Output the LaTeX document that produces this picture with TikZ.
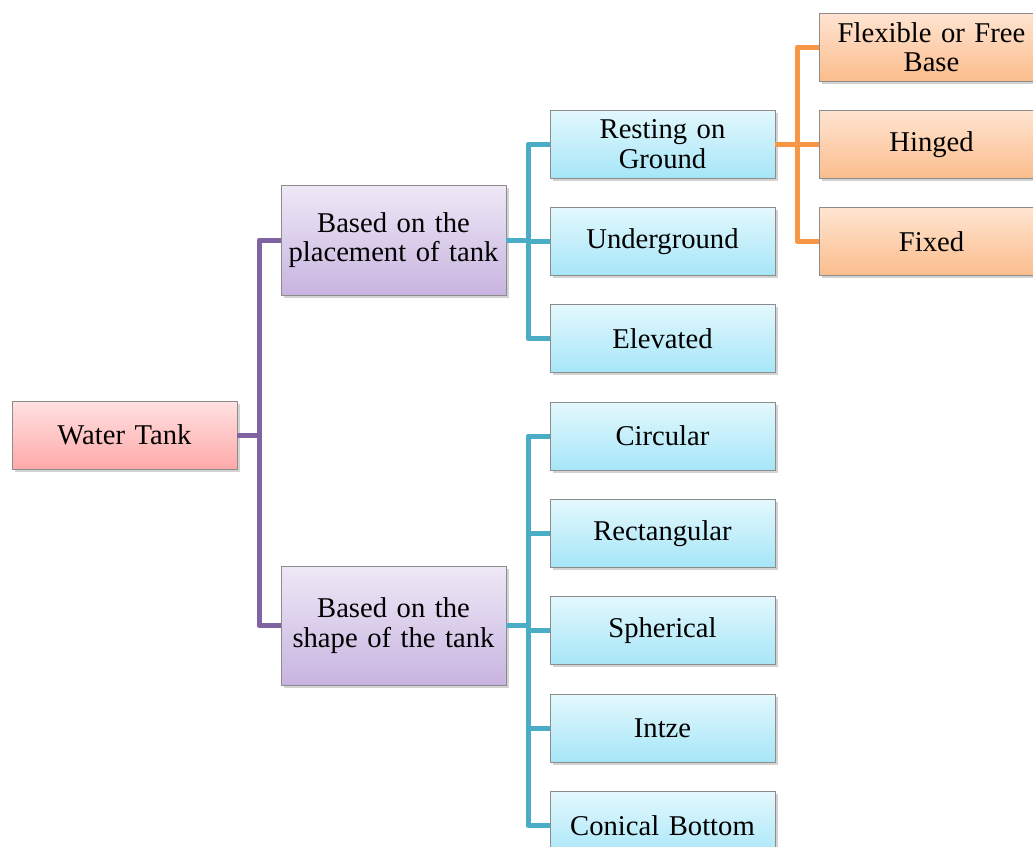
\documentclass[tikz,border=0pt]{standalone}
\usepackage{fontspec}
\setmainfont{Liberation Serif}
\usetikzlibrary{positioning,calc,shadows}

\definecolor{pinkTop}{HTML}{FFE1E1}
\definecolor{pinkBot}{HTML}{FFA9A9}
\definecolor{lilacTop}{HTML}{EEE8F6}
\definecolor{lilacBot}{HTML}{C8B4E0}
\definecolor{skyTop}{HTML}{E3F8FD}
\definecolor{skyBot}{HTML}{A6E6F8}
\definecolor{peachTop}{HTML}{FFE4D1}
\definecolor{peachBot}{HTML}{FBBD8C}
\definecolor{lilacLine}{HTML}{8064A2}
\definecolor{skyLine}{HTML}{4BACC6}
\definecolor{peachLine}{HTML}{F79646}

\begin{document}
\begin{tikzpicture}[x=0.02cm, y=-0.02cm, node distance=0.57cm,
  box/.style={rectangle, draw=black!45, line width=0.5pt, minimum width=4.5cm,
    minimum height=1.36cm, text width=4.3cm, align=center, inner sep=1pt,
    font=\fontsize{16.3pt}{16.8pt}\selectfont,
    drop shadow={shadow xshift=1.5pt, shadow yshift=-1.5pt, opacity=0.35}},
  root/.style={box, top color=pinkTop, bottom color=pinkBot},
  group/.style={box, top color=lilacTop, bottom color=lilacBot},
  kind/.style={box, top color=skyTop, bottom color=skyBot},
  base/.style={box, top color=peachTop, bottom color=peachBot},
  link/.style={line width=0.1cm, line join=round}]
  \useasboundingbox (0,0) rectangle (1033,846);
  \clip (0,0) rectangle (1033,846);

  \node[root] (tank) at (124.5,435) {Water Tank};
  \node[group, minimum height=2.2cm] (place) at (393.5,240) {Based on the\\placement of tank};
  \node[group, minimum height=2.38cm] (shape) at (393.5,625.5) {Based on the\\shape of the tank};

  \node[kind] (rest) at (662.5,144) {Resting on\\Ground};
  \node[kind, below=of rest] (under) {Underground};
  \node[kind, below=of under] (elev) {Elevated};
  \node[kind, below=of elev] (circ) {Circular};
  \node[kind, below=of circ] (rect) {Rectangular};
  \node[kind, below=of rect] (sphere) {Spherical};
  \node[kind, below=of sphere] (intze) {Intze};
  \node[kind, below=of intze] (cone) {Conical Bottom};

  \node[base] (flex) at (931.5,47) {Flexible or Free\\Base};
  \node[base, below=of flex] (hinged) {Hinged};
  \node[base, below=of hinged] (fixed) {Fixed};

  \coordinate (m1) at ($(tank.east)!0.5!(place.west)$);
  \coordinate (m2) at ($(place.east)!0.5!(rest.west)$);
  \coordinate (m3) at ($(rest.east)!0.5!(hinged.west)$);
  \foreach \c in {place,shape}
    \draw[link, lilacLine] (tank.east) -- (tank.east -| m1) |- (\c.west);
  \foreach \c in {rest,under,elev}
    \draw[link, skyLine] (place.east) -- (place.east -| m2) |- (\c.west);
  \foreach \c in {circ,rect,sphere,intze,cone}
    \draw[link, skyLine] (shape.east) -- (shape.east -| m2) |- (\c.west);
  \foreach \c in {flex,hinged,fixed}
    \draw[link, peachLine] (rest.east) -- (rest.east -| m3) |- (\c.west);
\end{tikzpicture}
\end{document}
